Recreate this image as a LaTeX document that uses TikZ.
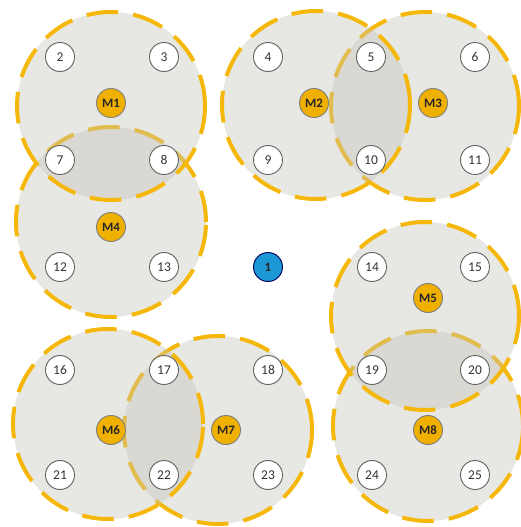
\documentclass[tikz,border=0pt]{standalone}
\usepackage{fontspec}
\setmainfont{Carlito}
\definecolor{zoneline}{RGB}{245,184,10}
\definecolor{zonefill}{RGB}{196,194,184}
\definecolor{hubfill}{RGB}{240,176,0}
\definecolor{basefill}{RGB}{28,152,214}
\tikzset{
  zone/.style={fill=zonefill,fill opacity=0.4,draw=zoneline,line width=3.4pt,
    dash pattern=on 27pt off 13pt},
  sensor/.style={circle,draw=black!60,fill=white,line width=0.8pt,minimum size=0.87cm,
    inner sep=0pt,text=black!80,font=\fontsize{11.5}{13}\selectfont},
  hub/.style={sensor,fill=hubfill,draw=black!50,text=black!85,font=\fontsize{11}{13}\selectfont\bfseries},
  base/.style={sensor,fill=basefill,draw=blue!35!black,text=black!85,font=\fontsize{11}{13}\selectfont\bfseries}
}
\begin{document}
\begin{tikzpicture}[x=0.03cm,y=-0.03cm]
\useasboundingbox (0,0) rectangle (520,527);
% coverage zones, lower one first
\draw[zone] (111,222) circle[radius=2.85cm];
\draw[zone] (111,106) circle[radius=2.82cm];
\draw[zone] (425,106) circle[radius=2.82cm];
\draw[zone] (316,105) circle[radius=2.82cm];
\draw[zone] (428,426) circle[radius=2.85cm];
\draw[zone] (425,316) circle[radius=2.82cm];
\draw[zone] (218,430) circle[radius=2.82cm];
\draw[zone] (108,424) circle[radius=2.85cm];
% cluster heads
\node[hub] (m1) at (111,103) {M1};
\node[hub] (m2) at (314,103) {M2};
\node[hub] (m3) at (433,103) {M3};
\node[hub] (m4) at (111,227) {M4};
\node[hub] (m5) at (428,298) {M5};
\node[hub] (m6) at (111,430) {M6};
\node[hub] (m7) at (226,430) {M7};
\node[hub] (m8) at (428,430) {M8};
% sink
\node[base] (n1) at (268,267) {1};
% sensors
\foreach \n/\x/\y in {2/60/57,3/164/57,4/268/57,5/371/57,6/475/57,
  7/60/160,8/164/160,9/268/160,10/371/160,11/475/160,
  12/60/267,13/164/267,14/372/267,15/475/267,
  16/60/370,17/164/370,18/268/370,19/372/370,20/475/370,
  21/60/475,22/164/475,23/268/475,24/372/475,25/475/475}
  \node[sensor] (n\n) at (\x,\y) {\n};
\end{tikzpicture}
\end{document}
